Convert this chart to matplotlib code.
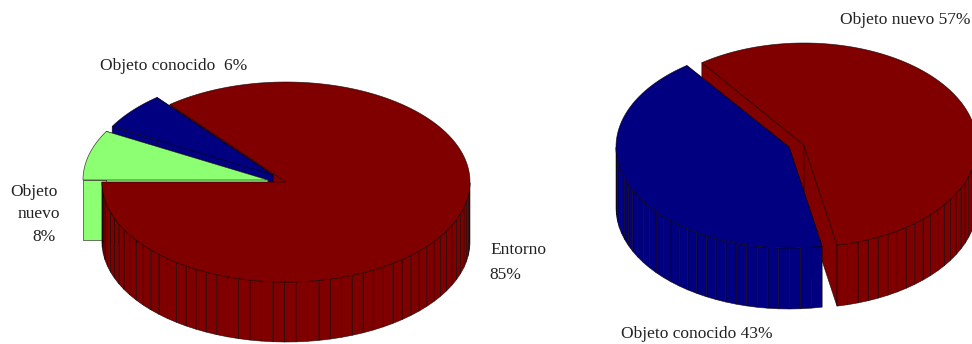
import numpy as np
import matplotlib
matplotlib.use("Agg")
import matplotlib.pyplot as plt
from matplotlib.patches import Polygon

# values (percent), clockwise from the start angle
left_names = ["Objeto nuevo", "Objeto conocido", "Entorno"]
left_values = [8, 6, 85]
right_names = ["Objeto conocido", "Objeto nuevo"]
right_values = [43, 57]

MAROON = "#800000"
NAVY = "#000080"
GREEN = "#8CFF73"
EDGE = (0.05, 0, 0, 0.75)
TEXT = "#222222"
FACET = 3.6


def rim(cx, cy, rx, ry, deg):
    a = np.radians(deg)
    return cx + rx * np.cos(a), cy - ry * np.sin(a)


def poly(ax, pts, color, z, lw=0.5):
    ax.add_patch(Polygon(pts, closed=True, facecolor=color, edgecolor=EDGE,
                         linewidth=lw, zorder=z))


def draw_walls(ax, cx, cy, rx, ry, depth, a0, a1, color, z):
    # the two flat cuts of a slice, from the centre out to the rim
    for a in (a0, a1):
        x, y = rim(cx, cy, rx, ry, a)
        poly(ax, [(cx, cy), (x, y), (x, y + depth), (cx, cy + depth)], color, z)


def draw_body(ax, cx, cy, rx, ry, depth, a0, a1, color, z):
    # a0 > a1, going clockwise: outer facets on the front half, then the top
    angs = np.arange(a0, a1, -FACET)
    angs = np.append(angs, a1)
    for s, e in zip(angs[:-1], angs[1:]):
        if np.sin(np.radians((s + e) / 2)) >= 0:
            continue
        x0, y0 = rim(cx, cy, rx, ry, s)
        x1, y1 = rim(cx, cy, rx, ry, e)
        poly(ax, [(x0, y0), (x1, y1), (x1, y1 + depth), (x0, y0 + depth)], color, z)
    arc = np.linspace(a0, a1, 200)
    xs, ys = rim(cx, cy, rx, ry, arc)
    poly(ax, [(cx, cy)] + list(zip(xs, ys)), color, z + 0.5)


def spans(values, start):
    sweep = 360 * np.array(values) / sum(values)
    ends = start - np.cumsum(sweep)
    return list(zip(np.r_[start, ends[:-1]], ends))


fig = plt.figure(figsize=(9.72, 3.44), dpi=100)
ax = fig.add_axes([0, 0, 1, 1])
ax.set_xlim(0, 972)
ax.set_ylim(344, 0)
ax.axis("off")

# left pie
(g0, g1), (b0, b1), (m0, m1) = spans(left_values, 180)
draw_walls(ax, 286, 182, 184, 100, 60, m0, m1, MAROON, 1)
draw_walls(ax, 273, 175, 184, 100, 60, b0, b1, NAVY, 2)
draw_body(ax, 273, 175, 184, 100, 60, b0, b1, NAVY, 2.1)
draw_walls(ax, 268, 180, 185, 100, 60, g0, g1, GREEN, 3)
draw_body(ax, 268, 180, 185, 100, 60, g0, g1, GREEN, 3.1)
draw_body(ax, 286, 182, 184, 100, 60, m0, m1, MAROON, 4)

# right pie
(m0, m1), (b0, b1) = spans(right_values[::-1], -79 + 360 * right_values[1] / sum(right_values))
draw_walls(ax, 804, 145, 173, 102, 61, m0, m1, MAROON, 1)
draw_body(ax, 804, 145, 173, 102, 61, m0, m1, MAROON, 1.1)
draw_walls(ax, 789, 147, 173, 101, 61, b0, b1, NAVY, 2)
draw_body(ax, 789, 147, 173, 101, 61, b0, b1, NAVY, 2.1)

font = dict(family="Liberation Serif", fontsize=12.5, color=TEXT, va="center", ha="left", zorder=10)
ax.text(100, 66, f"{left_names[1]}  {left_values[1]}%", **font)
ax.text(10, 192, left_names[0].split()[0], **font)
ax.text(18, 214, left_names[0].split()[1], **font)
ax.text(32, 237, f"{left_values[0]}%", **font)
ax.text(490, 250, left_names[2], **font)
ax.text(489, 275, f"{left_values[2]}%", **font)
ax.text(840, 20, f"{right_names[1]} {right_values[1]}%", **font)
ax.text(621, 334, f"{right_names[0]} {right_values[0]}%", **font)

fig.savefig("out.png", dpi=100)
plt.close(fig)
